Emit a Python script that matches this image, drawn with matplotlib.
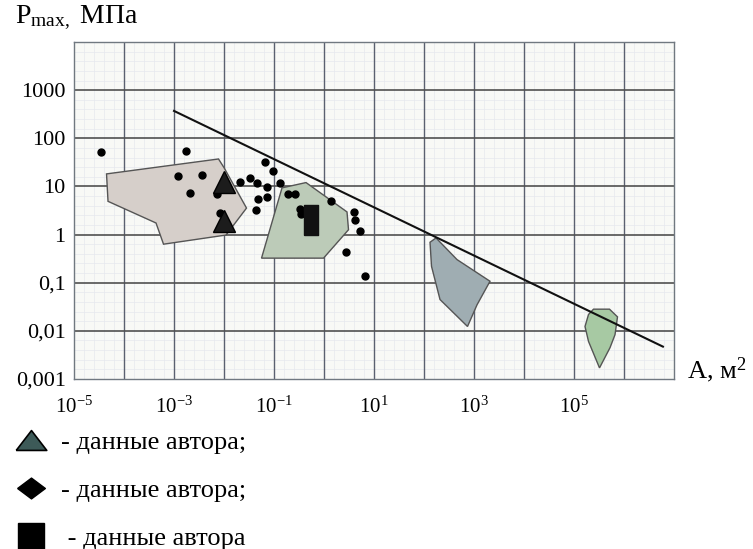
"""P_max versus contact area A, log-log, with author data markers."""

import matplotlib
matplotlib.use("Agg")
import matplotlib.pyplot as plt
import numpy as np
from matplotlib.lines import Line2D
from matplotlib.patches import Polygon
from matplotlib.ticker import FixedLocator, NullFormatter

plt.rcParams["font.family"] = ["Liberation Serif", "DejaVu Serif"]
plt.rcParams["mathtext.fontset"] = "custom"
plt.rcParams["mathtext.rm"] = "Liberation Serif"
plt.rcParams["mathtext.it"] = "Liberation Serif"

# scattered literature points (A in m^2, P in MPa)
dots_A = [3.5e-5, 1.7e-3, 1.2e-3, 3.7e-3, 2.1e-3, 7.1e-3, 8.3e-3, 0.021, 0.033,
          0.045, 0.066, 0.094, 0.13, 0.071, 0.047, 0.071, 0.044, 0.19, 0.26,
          0.33, 0.34, 1.4, 3.9, 4.2, 5.2, 2.7, 6.7]
dots_P = [52, 54, 16.6, 17.4, 7.2, 7.1, 2.8, 12.6, 14.8,
          12, 31.5, 21, 12, 9.8, 5.5, 5.9, 3.2, 7.1, 7.1,
          3.4, 2.7, 5.0, 2.9, 2.0, 1.2, 0.43, 0.135]

# author data
tri_A = [0.01, 0.01]
tri_P = [12.6, 1.87]
sq_A = [0.54]
sq_P = [2.04]

# upper bound line
line_A = [1e-3, 6e6]
line_P = [370, 0.0047]

# shaded regions, vertices as (log10 A, log10 P)
region1 = [(-4.35, 1.26), (-2.11, 1.57), (-2.0, 1.39), (-1.55, 0.55),
           (-1.96, -0.01), (-3.21, -0.20), (-3.36, 0.24), (-4.32, 0.69)]
region2 = [(-0.84, 0.97), (-0.36, 1.08), (0.46, 0.47), (0.49, 0.10),
           (-0.01, -0.49), (-1.25, -0.49)]
region3 = [(2.12, -0.16), (2.24, -0.07), (2.66, -0.52), (3.32, -0.97),
           (3.06, -1.46), (2.87, -1.91), (2.32, -1.35), (2.15, -0.66)]
region4 = [(5.39, -1.55), (5.71, -1.55), (5.87, -1.71), (5.82, -2.08),
           (5.72, -2.35), (5.51, -2.77), (5.29, -2.22), (5.22, -1.91),
           (5.29, -1.66)]
region_colors = ["#d6cfca", "#bccbb8", "#9fadb2", "#a7c9a3"]

x_ticks = [1e-5, 1e-3, 1e-1, 1e1, 1e3, 1e5]
x_labels = [r"$\mathregular{10^{-5}}$", r"$\mathregular{10^{-3}}$",
            r"$\mathregular{10^{-1}}$", r"$\mathregular{10^{1}}$",
            r"$\mathregular{10^{3}}$", r"$\mathregular{10^{5}}$"]
y_ticks = [1e-3, 1e-2, 1e-1, 1, 10, 100, 1000]
y_labels = ["0,001", "0,01", "0,1", "1", "10", "100", "1000"]

fig = plt.figure(figsize=(7.53, 5.49), dpi=100)
ax = fig.add_axes([0.0983, 0.3097, 0.7968, 0.6138])
ax.set_facecolor("#f8f9f6")
ax.set_xscale("log")
ax.set_yscale("log")
ax.set_xlim(1e-5, 1e7)
ax.set_ylim(1e-3, 1e4)

ax.set_xticks(x_ticks, x_labels)
ax.set_yticks(y_ticks, y_labels)

# graph-paper style grid: fine lines at fifths of a decade, heavy at decades
fine_x = [10 ** (k + j / 5) for k in range(-5, 7) for j in range(1, 5)]
fine_y = [10 ** (k + j / 5) for k in range(-3, 4) for j in range(1, 5)]
ax.xaxis.set_minor_locator(FixedLocator(fine_x))
ax.yaxis.set_minor_locator(FixedLocator(fine_y))
ax.xaxis.set_minor_formatter(NullFormatter())
ax.yaxis.set_minor_formatter(NullFormatter())
ax.grid(which="minor", color="#e6e8ee", lw=0.5, zorder=0.3)
for k in range(-4, 7):
    ax.axvline(10.0 ** k, color="#5a6070", lw=1.0, zorder=1)
for k in range(-2, 4):
    ax.axhline(10.0 ** k, color="#505050", lw=1.2, zorder=1)
for s in ax.spines.values():
    s.set_color("#707880")
    s.set_linewidth(1.0)
ax.set_axisbelow(True)

ax.tick_params(which="both", length=0)
ax.tick_params(axis="x", labelsize=15, pad=13)
ax.tick_params(axis="y", labelsize=16, pad=6)

for verts, col in zip([region1, region2, region3, region4], region_colors):
    pts = 10 ** np.array(verts)
    ax.add_patch(Polygon(pts, closed=True, facecolor=col, edgecolor="#555555",
                         lw=1.0, zorder=2))

ax.plot(line_A, line_P, color="#111111", lw=1.5, zorder=4)
ax.plot(dots_A, dots_P, "o", color="black", ms=5, zorder=5)
ax.plot(tri_A, tri_P, "^", color="#1c1c1c", mec="black", ms=16, zorder=6)
tall_rect = [(-0.5, -1), (0.5, -1), (0.5, 1), (-0.5, 1), (-0.5, -1)]
ax.plot(sq_A, sq_P, marker=tall_rect, ls="none", color="#111111", ms=21, zorder=6)

fig.text(0.02, 0.968, r"P$_{\mathregular{max},}$ МПа", fontsize=20, va="center")
fig.text(0.912, 0.326, r"A, м$^{\mathregular{2}}$", fontsize=19, va="center")

wide_tri = [(-1, -0.65), (1, -0.65), (0, 0.65), (-1, -0.65)]
wide_diamond = [(-1, 0), (0, 0.75), (1, 0), (0, -0.75), (-1, 0)]
handles = [
    Line2D([], [], marker=wide_tri, ls="none", ms=22, color="#3d5a58", mec="black", mew=1.2),
    Line2D([], [], marker=wide_diamond, ls="none", ms=20, color="black"),
    Line2D([], [], marker="s", ls="none", ms=19, color="black"),
]
labels = ["- данные автора;", "- данные автора;", " - данные автора"]
fig.legend(handles, labels, loc="upper left", bbox_to_anchor=(0.005, 0.235),
           frameon=False, fontsize=19, handlelength=1.3, handletextpad=0.45,
           labelspacing=0.93, borderaxespad=0)

fig.savefig("out.png", dpi=100)
